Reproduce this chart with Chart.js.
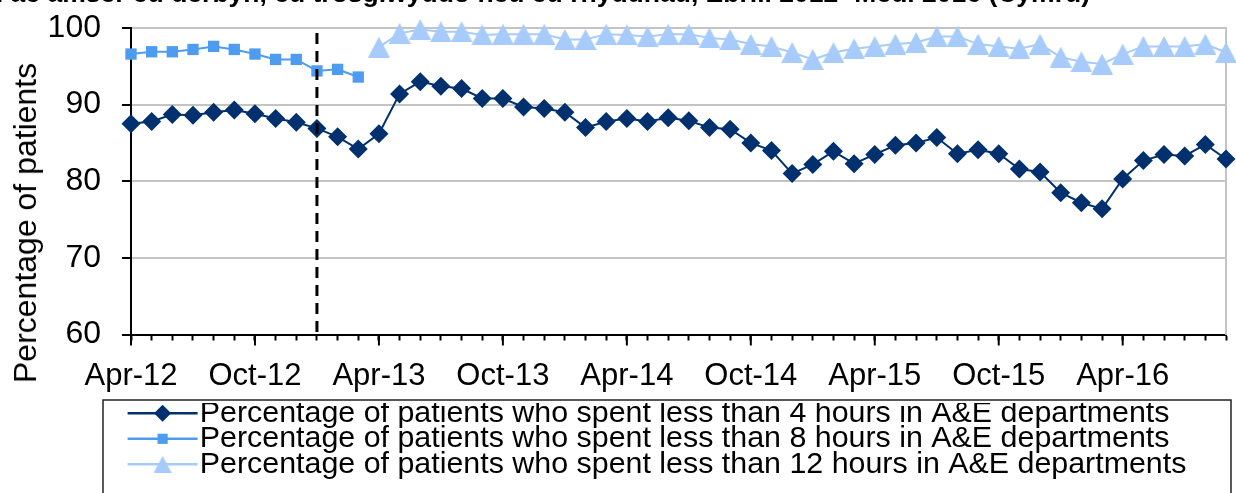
<!DOCTYPE html>
<html>
<head>
<meta charset="utf-8">
<script src="https://cdn.jsdelivr.net/npm/chart.js@4/dist/chart.umd.min.js"></script>
<style>
html,body{margin:0;padding:0;background:#fff;overflow:hidden;width:1236px;height:493px;}
#wrap{position:absolute;left:0;top:0;width:1236px;height:515px;}
#title{position:absolute;right:146px;top:-17px;font:bold 26.5px "Liberation Sans",Arial,sans-serif;line-height:20px;white-space:nowrap;color:#000;}
#ytitle{position:absolute;left:25px;top:223px;transform:translate(-50%,-50%) rotate(-90deg);font:32px "Liberation Sans",Arial,sans-serif;line-height:32px;white-space:nowrap;color:#000;}
</style>
</head>
<body>
<div id="wrap"><canvas id="c"></canvas></div>
<div id="title">cyrraedd ac amser eu derbyn, eu trosglwyddo neu eu rhyddhau, Ebrill 2012- Medi 2016 (Cymru)</div>
<div id="ytitle">Percentage of patients</div>
<script>
// ---- Data ----
const months = [
  'Apr-12','May-12','Jun-12','Jul-12','Aug-12','Sep-12','Oct-12','Nov-12','Dec-12','Jan-13','Feb-13','Mar-13',
  'Apr-13','May-13','Jun-13','Jul-13','Aug-13','Sep-13','Oct-13','Nov-13','Dec-13','Jan-14','Feb-14','Mar-14',
  'Apr-14','May-14','Jun-14','Jul-14','Aug-14','Sep-14','Oct-14','Nov-14','Dec-14','Jan-15','Feb-15','Mar-15',
  'Apr-15','May-15','Jun-15','Jul-15','Aug-15','Sep-15','Oct-15','Nov-15','Dec-15','Jan-16','Feb-16','Mar-16',
  'Apr-16','May-16','Jun-16','Jul-16','Aug-16','Sep-16'
];
const fourHour = [
  87.5, 87.8, 88.7, 88.6, 89.0, 89.3, 88.8, 88.2, 87.7, 86.9, 85.8, 84.2,
  86.2, 91.4, 93.0, 92.4, 92.1, 90.8, 90.8, 89.7, 89.5, 89.0, 87.0, 87.8,
  88.2, 87.8, 88.3, 87.9, 87.0, 86.8, 85.0, 84.0, 81.0, 82.2, 83.9, 82.3,
  83.5, 84.7, 85.0, 85.7, 83.6, 84.1, 83.6, 81.6, 81.2, 78.5, 77.2, 76.4,
  80.3, 82.7, 83.5, 83.3, 84.8, 82.9
];
const eightHourStart = 'Apr-12';
const eightHour = [96.6, 96.9, 96.9, 97.2, 97.6, 97.2, 96.6, 95.9, 95.9, 94.4, 94.6, 93.6];
const twelveHourStart = 'Apr-13';
const twelveHour = [
  97.5, 99.3, 99.8, 99.5, 99.5, 99.1, 99.2, 99.2, 99.2, 98.5, 98.5, 99.2,
  99.1, 98.9, 99.2, 99.2, 98.7, 98.5, 97.9, 97.6, 96.8, 95.9, 96.8, 97.3,
  97.6, 97.9, 98.1, 98.9, 98.9, 97.9, 97.6, 97.3, 97.9, 96.2, 95.6, 95.3,
  96.6, 97.6, 97.6, 97.6, 97.9, 96.8
];
const seriesNames = [
  'Percentage of patients who spent less than 4 hours in A&E departments',
  'Percentage of patients who spent less than 8 hours in A&E departments',
  'Percentage of patients who spent less than 12 hours in A&E departments'
];
const yTicks = [60, 70, 80, 90, 100];
const breakMonth = 'Jan-13';
const labelEvery = 6;

// ---- Styles ----
const NAVY = '#00306E', MID = '#4D9CF0', LIGHT = '#A7CBFA';
const GRID = '#C4C4C4';
Chart.defaults.font.family = '"Liberation Sans", Arial, sans-serif';
Chart.defaults.color = '#000';

function makeTriangle(color, w, h) {
  const c = document.createElement('canvas');
  c.width = w; c.height = h;
  const g = c.getContext('2d');
  g.fillStyle = color;
  g.beginPath();
  g.moveTo(w / 2, 0); g.lineTo(w, h); g.lineTo(0, h);
  g.closePath(); g.fill();
  return c;
}
const triImg = makeTriangle(LIGHT, 22, 21);
const triImgLegend = makeTriangle(LIGHT, 18, 17);

function toPoints(values, start) {
  const s = months.indexOf(start);
  return values.map((v, i) => ({x: months[s + i], y: v}));
}

function drawMarker(ctx, style, x, y, r, color, legendImg) {
  if (style instanceof HTMLCanvasElement) {
    const im = legendImg || style;
    ctx.drawImage(im, x - im.width / 2, y - im.height / 2);
    return;
  }
  ctx.fillStyle = color;
  ctx.beginPath();
  if (style === 'rectRot') {
    ctx.moveTo(x - r, y); ctx.lineTo(x, y - r); ctx.lineTo(x + r, y); ctx.lineTo(x, y + r);
  } else {
    const s = r * Math.SQRT1_2;
    ctx.rect(x - s, y - s, 2 * s, 2 * s);
  }
  ctx.closePath(); ctx.fill();
}

const decor = {
  id: 'decor',
  afterDatasetsDraw(chart) {
    const {ctx, chartArea: a, scales: {x}} = chart;
    const px = x.getPixelForValue(months.indexOf(breakMonth));
    ctx.save();
    ctx.strokeStyle = '#000';
    ctx.lineWidth = 3;
    ctx.setLineDash([11, 7]);
    ctx.beginPath();
    ctx.moveTo(px, a.top + 5);
    ctx.lineTo(px, a.bottom);
    ctx.stroke();
    ctx.restore();
  },
  afterDraw(chart) {
    const {ctx, chartArea: a, scales: {x}} = chart;
    ctx.save();
    ctx.strokeStyle = '#000';
    ctx.lineWidth = 2;
    x.ticks.forEach((t, i) => {
      if (i % labelEvery === 0) {
        const px = x.getPixelForTick(i);
        ctx.beginPath(); ctx.moveTo(px, a.bottom); ctx.lineTo(px, a.bottom + 11); ctx.stroke();
      }
    });
    const lg = chart.legend;
    if (lg && lg.legendHitBoxes) {
      lg.legendHitBoxes.forEach((hb, i) => {
        const ds = chart.data.datasets[i];
        const ym = hb.top + hb.height / 2;
        const x0 = hb.left + 1.5, x1 = hb.left + 71.5;
        ctx.strokeStyle = ds.borderColor;
        ctx.lineWidth = 2.5;
        ctx.beginPath(); ctx.moveTo(x0, ym); ctx.lineTo(x1, ym); ctx.stroke();
        drawMarker(ctx, ds.pointStyle, (x0 + x1) / 2, ym, ds.pointRadius * 0.9, ds.backgroundColor, i === 2 ? triImgLegend : null);
      });
      ctx.strokeStyle = '#222';
      ctx.lineWidth = 1.5;
      ctx.strokeRect(103, 400, 1128, 200);
    }
    ctx.restore();
  }
};

new Chart(document.getElementById('c'), {
  type: 'line',
  data: {
    labels: months,
    datasets: [
      {label: seriesNames[0], data: fourHour, borderColor: NAVY, backgroundColor: NAVY,
       borderWidth: 2, pointStyle: 'rectRot', pointRadius: 9.5, pointBorderWidth: 0, pointBackgroundColor: NAVY, tension: 0, clip: false},
      {label: seriesNames[1], data: toPoints(eightHour, eightHourStart), borderColor: MID, backgroundColor: MID,
       borderWidth: 2, pointStyle: 'rect', pointRadius: 8, pointBorderWidth: 0, pointBackgroundColor: MID, tension: 0, clip: false},
      {label: seriesNames[2], data: toPoints(twelveHour, twelveHourStart), borderColor: LIGHT, backgroundColor: LIGHT,
       borderWidth: 2, pointStyle: triImg, pointRadius: 10, pointBorderWidth: 0, tension: 0, clip: false}
    ]
  },
  options: {
    responsive: true,
    maintainAspectRatio: false,
    animation: false,
    events: [],
    layout: {padding: {left: 0, right: 8, top: 28, bottom: 25.5}},
    plugins: {
      tooltip: {enabled: false},
      title: {display: false},
      legend: {
        display: true,
        position: 'bottom',
        align: 'start',
        fullSize: false,
        labels: {
          font: {size: 30.4},
          color: '#000',
          boxWidth: 58.5,
          boxHeight: 30.4,
          padding: -4.9,
          generateLabels(chart) {
            return chart.data.datasets.map((d, i) => ({
              text: d.label, fillStyle: 'rgba(0,0,0,0)', strokeStyle: 'rgba(0,0,0,0)',
              lineWidth: 0, hidden: false, datasetIndex: i, fontColor: '#000'
            }));
          }
        }
      }
    },
    scales: {
      x: {
        type: 'category',
        offset: false,
        grid: {display: true, drawOnChartArea: false, tickLength: 6, tickColor: '#000', tickWidth: 2, offset: false},
        border: {display: true, color: '#000', width: 2},
        ticks: {
          autoSkip: false, maxRotation: 0, minRotation: 0, padding: 17,
          font: {size: 31}, color: '#000',
          callback(v, i) { return i % labelEvery === 0 ? this.getLabelForValue(v) : ''; }
        },
        afterFit(s) { s.height = 68.5; s.paddingLeft = 0; s.paddingRight = 0; }
      },
      y: {
        min: yTicks[0], max: yTicks[yTicks.length - 1],
        afterBuildTicks(s) { s.ticks = yTicks.map(v => ({value: v})); },
        grid: {color: GRID, lineWidth: 2, tickColor: '#000', tickLength: 9, tickWidth: 2},
        border: {display: true, color: '#000', width: 2},
        ticks: {font: {size: 32}, color: '#000', padding: 21},
        afterFit(s) { s.width = 131; s.paddingTop = 0; s.paddingBottom = 0; }
      },
      y2: {
        position: 'right',
        min: yTicks[0], max: yTicks[yTicks.length - 1],
        grid: {drawOnChartArea: false, drawTicks: false},
        border: {display: true, color: GRID, width: 2},
        ticks: {display: false},
        afterFit(s) { s.width = 0; s.paddingTop = 0; s.paddingBottom = 0; }
      }
    }
  },
  plugins: [decor]
});
</script>
</body>
</html>
